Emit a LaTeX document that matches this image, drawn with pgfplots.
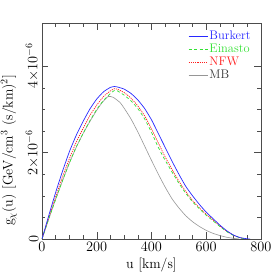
\documentclass[border=0pt]{standalone}
\usepackage{pgfplots}
\pgfplotsset{compat=1.18}
\definecolor{bkblue}{RGB}{40,40,255}
\definecolor{eingreen}{RGB}{50,225,50}
\definecolor{nfwred}{RGB}{255,30,30}
\definecolor{mbgray}{RGB}{150,150,150}
\begin{document}
\begin{tikzpicture}
\begin{axis}[
  at={(0,0)}, anchor=south west,
  scale only axis, width=219bp, height=216bp,
  xmin=0, xmax=800, ymin=0, ymax=5e-6,
  xtick={0,200,400,600,800}, minor x tick num=3,
  ytick={0,2e-6,4e-6},
  yticklabels={$0$,$2{\times}10^{-6}$,$4{\times}10^{-6}$},
  minor y tick num=3,
  scaled y ticks=false,
  tick align=inside,
  major tick length=6.5bp, minor tick length=3.5bp,
  axis line style={black!70},
  every tick/.style={black!70},
  ticklabel style={font=\fontsize{14}{14}\selectfont},
  yticklabel style={rotate=90, anchor=south},
  xlabel={u [km/s]},
  xlabel style={font=\fontsize{14}{14}\selectfont, at={(axis description cs:0.5,-0.12)}, anchor=center},
  ylabel={g$_\chi$(u) [GeV/cm$^3$ (s/km)$^2$]},
  ylabel style={font=\fontsize{14}{14}\selectfont, at={(axis description cs:-0.151,0.41)}, anchor=center},
  legend style={at={(axis description cs:0.667,0.97)}, anchor=north west, draw=none, fill=none,
    font=\fontsize{12.5}{13}\selectfont, inner sep=0pt, row sep=0pt,
    nodes={inner sep=1.5pt}},
  legend cell align=left,
  legend image code/.code={\draw[#1] (0bp,0bp) -- (19bp,0bp);},
  reverse legend,
  every axis plot/.append style={smooth, tension=0.3},
]
\addplot[color=mbgray, line width=0.6pt] coordinates {
(0,0) (25,0.47e-6) (50,0.92e-6) (75,1.35e-6) (100,1.76e-6) (125,2.12e-6)
(150,2.44e-6) (175,2.72e-6) (200,2.98e-6) (220,3.16e-6) (242,3.30e-6)
(260,3.28e-6) (285,3.16e-6) (300,3.03e-6) (325,2.78e-6) (350,2.48e-6)
(375,2.15e-6) (400,1.82e-6) (425,1.50e-6) (450,1.20e-6) (475,0.93e-6)
(500,0.72e-6) (525,0.54e-6) (550,0.40e-6) (575,0.29e-6) (600,0.20e-6)
(625,0.13e-6) (650,0.08e-6) (675,0.04e-6) (700,0.015e-6) (720,0)
};
\addlegendentry{\textcolor{black!80}{MB}}
\addplot[color=nfwred, line width=0.7pt, dash pattern=on 1.2pt off 1pt] coordinates {
(0,0) (25,0.50e-6) (50,0.98e-6) (75,1.44e-6) (100,1.86e-6) (125,2.24e-6)
(150,2.56e-6) (175,2.86e-6) (200,3.10e-6) (225,3.30e-6) (250,3.43e-6)
(265,3.48e-6) (275,3.47e-6) (300,3.39e-6) (325,3.26e-6) (350,3.08e-6)
(375,2.85e-6) (400,2.55e-6) (425,2.22e-6) (450,1.90e-6) (475,1.61e-6)
(500,1.34e-6) (525,1.10e-6) (550,0.89e-6) (575,0.72e-6) (600,0.57e-6)
(625,0.44e-6) (650,0.30e-6) (675,0.18e-6) (700,0.085e-6) (725,0.027e-6) (750,0)
};
\addlegendentry{\textcolor{nfwred}{NFW}}
\addplot[color=eingreen, line width=0.7pt, dash pattern=on 3pt off 2.5pt] coordinates {
(0,0) (25,0.47e-6) (50,0.92e-6) (75,1.35e-6) (100,1.76e-6) (125,2.13e-6)
(150,2.44e-6) (175,2.74e-6) (200,3.00e-6) (225,3.21e-6) (250,3.37e-6)
(265,3.44e-6) (275,3.43e-6) (300,3.33e-6) (325,3.20e-6) (350,3.02e-6)
(375,2.78e-6) (400,2.47e-6) (425,2.12e-6) (450,1.82e-6) (475,1.55e-6)
(500,1.29e-6) (525,1.06e-6) (550,0.86e-6) (575,0.70e-6) (600,0.55e-6)
(625,0.42e-6) (650,0.29e-6) (675,0.17e-6) (700,0.08e-6) (725,0.025e-6) (745,0)
};
\addlegendentry{\textcolor{eingreen}{Einasto}}
\addplot[color=bkblue, line width=0.7pt] coordinates {
(0,0) (25,0.55e-6) (50,1.08e-6) (75,1.57e-6) (100,2.02e-6) (125,2.40e-6)
(150,2.72e-6) (175,3.01e-6) (200,3.24e-6) (225,3.41e-6) (250,3.51e-6)
(265,3.53e-6) (275,3.52e-6) (300,3.47e-6) (325,3.37e-6) (350,3.22e-6)
(375,3.02e-6) (400,2.76e-6) (425,2.44e-6) (450,2.12e-6) (475,1.80e-6)
(500,1.50e-6) (525,1.22e-6) (550,1.00e-6) (575,0.80e-6) (600,0.62e-6)
(625,0.47e-6) (650,0.32e-6) (675,0.19e-6) (700,0.09e-6) (725,0.03e-6)
(750,0.005e-6) (760,0)
};
\addlegendentry{\textcolor{bkblue}{Burkert}}
\end{axis}
\pgfresetboundingbox
\path[use as bounding box] (-42bp,-34bp) rectangle (231bp,239bp);
\end{tikzpicture}
\end{document}
